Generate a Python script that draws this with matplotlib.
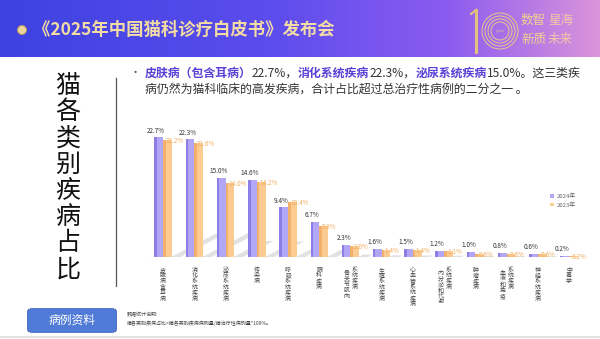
import matplotlib
matplotlib.use('Agg')
import matplotlib.pyplot as plt
import numpy as np
from matplotlib.patches import FancyBboxPatch, Polygon, Ellipse
from matplotlib.lines import Line2D

plt.rcParams['font.family'] = ['Noto Sans CJK SC', 'DejaVu Sans']

W, H = 600, 339

categories = ['皮肤病含耳病', '消化系统疾病', '泌尿系统疾病', '传染病', '呼吸系统疾病',
              '眼科疾病', ('骨关节肌肉', '系统疾病'), '生殖系统疾病', '心血管系统疾病',
              ('内分泌和代谢', '系统疾病'), '肿瘤疾病', ('血液和免疫', '系统疾病'),
              '神经系统疾病', '中毒学']
share_2024 = [22.7, 22.3, 15.0, 14.6, 9.4, 6.7, 2.3, 1.6, 1.5, 1.2, 1.0, 0.8, 0.6, 0.2]
share_2023 = [22.2, 21.6, 14.0, 14.2, 10.4, 5.8, 2.0, 1.4, 1.4, 1.1, 0.6, 0.6, 0.6, 0.2]
series_names = ['2024年', '2023年']

c24, c24_side = '#b2a6f6', '#8d7ee6'
c23, c23_side = '#fccb92', '#f3b06a'
accent = '#5b3fd6'


def px(x, y):
    # pixel position (from top-left) -> figure fraction
    return x / W, 1 - y / H


def ring(x, y, r, **kw):
    return Ellipse(px(x, y), 2 * r / W, 2 * r / H, transform=fig.transFigure, **kw)


fig = plt.figure(figsize=(W / 100, H / 100), dpi=100)
fig.patch.set_facecolor('white')

# header banner with horizontal gradient
hdr = fig.add_axes([0, 1 - 57 / H, 1, 57 / H])
grad = np.linspace(0, 1, 256)
stops = np.array([[0.24, 0.26, 0.88], [0.36, 0.30, 0.93], [0.55, 0.36, 0.94], [0.86, 0.58, 0.86]])
pos = np.array([0, 0.45, 0.75, 1.0])
rgb = np.stack([np.interp(grad, pos, stops[:, k]) for k in range(3)], axis=-1)
hdr.imshow(rgb[None, :, :], aspect='auto', extent=[0, 1, 0, 1])
hdr.set_xlim(0, 1)
hdr.set_ylim(0, 1)
hdr.axis('off')

fig.patches.append(ring(22, 30, 4.5, facecolor='#e9d49a', edgecolor='#b89a55', lw=0.6))
fig.text(*px(33, 30), '《2025年中国猫科诊疗白皮书》发布会', fontsize=12.5, fontweight='bold',
         color='#f3dca3', va='center', ha='left')

# logo at right of the banner
fig.add_artist(Line2D([476 / W, 476 / W], [1 - 10 / H, 1 - 52 / H], color='#e2c07e', lw=2.2))
fig.add_artist(Line2D([471 / W, 476 / W], [1 - 14 / H, 1 - 10 / H], color='#e2c07e', lw=1.5))
for r in [18, 15, 12, 9]:
    fig.patches.append(ring(500, 31, r, facecolor='none', edgecolor='#e7c98a', lw=0.7))
fig.text(*px(500, 31), 'years', fontsize=2.5, color='#e7c98a', ha='center', va='center')
fig.text(*px(521, 20), '数智', fontsize=9, color='#efd08f', ha='left', va='center')
fig.text(*px(548, 20), '星海', fontsize=9, color='#f4c7a8', ha='left', va='center')
fig.text(*px(521, 40), '新质', fontsize=9, color='#efd08f', ha='left', va='center')
fig.text(*px(548, 40), '未来', fontsize=9, color='#f4c7a8', ha='left', va='center')

# vertical section title
title_chars = '猫各类别疾病占比'
for i, ch in enumerate(title_chars):
    fig.text(*px(68, 86 + i * 26.2), ch, fontsize=18, color='#111111', ha='center', va='center')
fig.add_artist(Line2D([116 / W, 116 / W], [1 - 78 / H, 1 - 286 / H], color='#555555', lw=0.9))

# bullet text with highlighted disease names
renderer = fig.canvas.get_renderer()


def run_text(x0, y0, pieces, size=8.6):
    x = x0
    for txt, col, bold in pieces:
        t = fig.text(x / W, 1 - y0 / H, txt, fontsize=size, color=col, va='center', ha='left',
                     fontweight='bold' if bold else 'normal')
        x += t.get_window_extent(renderer).width * 100 / fig.dpi


fig.text(*px(130, 73), '•', fontsize=8, color='#555555', va='center')
run_text(145, 73, [('皮肤病（包含耳病）', accent, True), ('22.7%，', '#333333', False),
                   ('消化系统疾病', accent, True), ('22.3%，', '#333333', False),
                   ('泌尿系统疾病', accent, True), ('15.0%。这三类疾', '#333333', False)])
run_text(145, 89, [('病仍然为猫科临床的高发疾病，合计占比超过总治疗性病例的二分之一 。', '#333333', False)])

# bar chart
ax = fig.add_axes([145 / W, 1 - 257 / H, 445 / W, 132 / H])
x = np.arange(len(categories))
bw = 0.28
ax.set_xlim(-0.58, 13.67)
ax.set_ylim(0, 25)

# soft floor shadows behind each pair
for xi, v in zip(x, share_2024):
    L = 1.5 * v / 22.7
    hgt = 4.6 * v / 22.7
    ax.add_patch(Polygon([[xi + 0.25, 0], [xi + 0.25 + L, hgt], [xi + 0.25 + L + 0.3, hgt],
                          [xi + 0.55, 0]], closed=True, facecolor='#e2e2e2',
                         edgecolor='none', zorder=1))

ax.bar(x - bw / 2, share_2024, bw, color=c24, zorder=3, label=series_names[0])
ax.bar(x + bw / 2, share_2023, bw, color=c23, zorder=3, label=series_names[1])
# darker side faces
ax.bar(x - bw + 0.04, share_2024, 0.08, color=c24_side, zorder=3)
ax.bar(x + 0.04, share_2023, 0.08, color=c23_side, zorder=3)

for xi, v in zip(x, share_2024):
    ax.text(xi - bw / 2 - 0.08, v + 0.5, f'{v:.1f}%', fontsize=4.6, color='#333333',
            ha='center', va='bottom', zorder=5)
for xi, v in zip(x, share_2023):
    ax.text(xi + bw / 2 - 0.05, v - 0.2, f'{v:.1f}%', fontsize=4.6, color='#f2ad5e',
            ha='left', va='center', zorder=5)

ax.axhline(0, color='#cfcfcf', lw=0.8, zorder=4)
ax.axis('off')

# vertical category labels under the axis, one character per row
step = 1.08   # data units per character row (about 5.7 px)


def column(xc, text, top):
    for k, ch in enumerate(text):
        ax.text(xc, top - step * k, ch, fontsize=4.3, color='#444444',
                ha='center', va='top', clip_on=False)


for xi, cat in zip(x, categories):
    if isinstance(cat, tuple):
        left, right = cat
        column(xi - 0.12, left, -2.6)
        column(xi + 0.14, right, -1.9)
    else:
        column(xi, cat, -2.0)

leg = ax.legend(loc='upper left', bbox_to_anchor=(400 / 445, 0.52), frameon=False,
                fontsize=4.3, handlelength=0.6, handleheight=0.6, handletextpad=0.4,
                labelspacing=0.5, labelcolor='#666666')

# bottom button and footnote
fig.patches.append(FancyBboxPatch(px(30, 331), 84 / W, 21 / H, transform=fig.transFigure,
                                  boxstyle='round,pad=0.004,rounding_size=0.008',
                                  facecolor='#4f7ad6', edgecolor='#3f66bd', lw=0.6))
fig.text(*px(72, 320.5), '病例资料', fontsize=8.5, color='white', ha='center', va='center')
fig.text(*px(127, 315), '数据统计说明:', fontsize=3.6, color='#444444', ha='left', va='center')
fig.text(*px(127, 323), '猫各类别疾病占比=猫各类别疾病病例量/猫治疗性病例量*100%。', fontsize=3.6,
         color='#444444', ha='left', va='center')
fig.add_artist(Line2D([0, 1], [1 - 337 / H, 1 - 337 / H], color='#dddddd', lw=1.2))

fig.savefig('out.png', dpi=100)
